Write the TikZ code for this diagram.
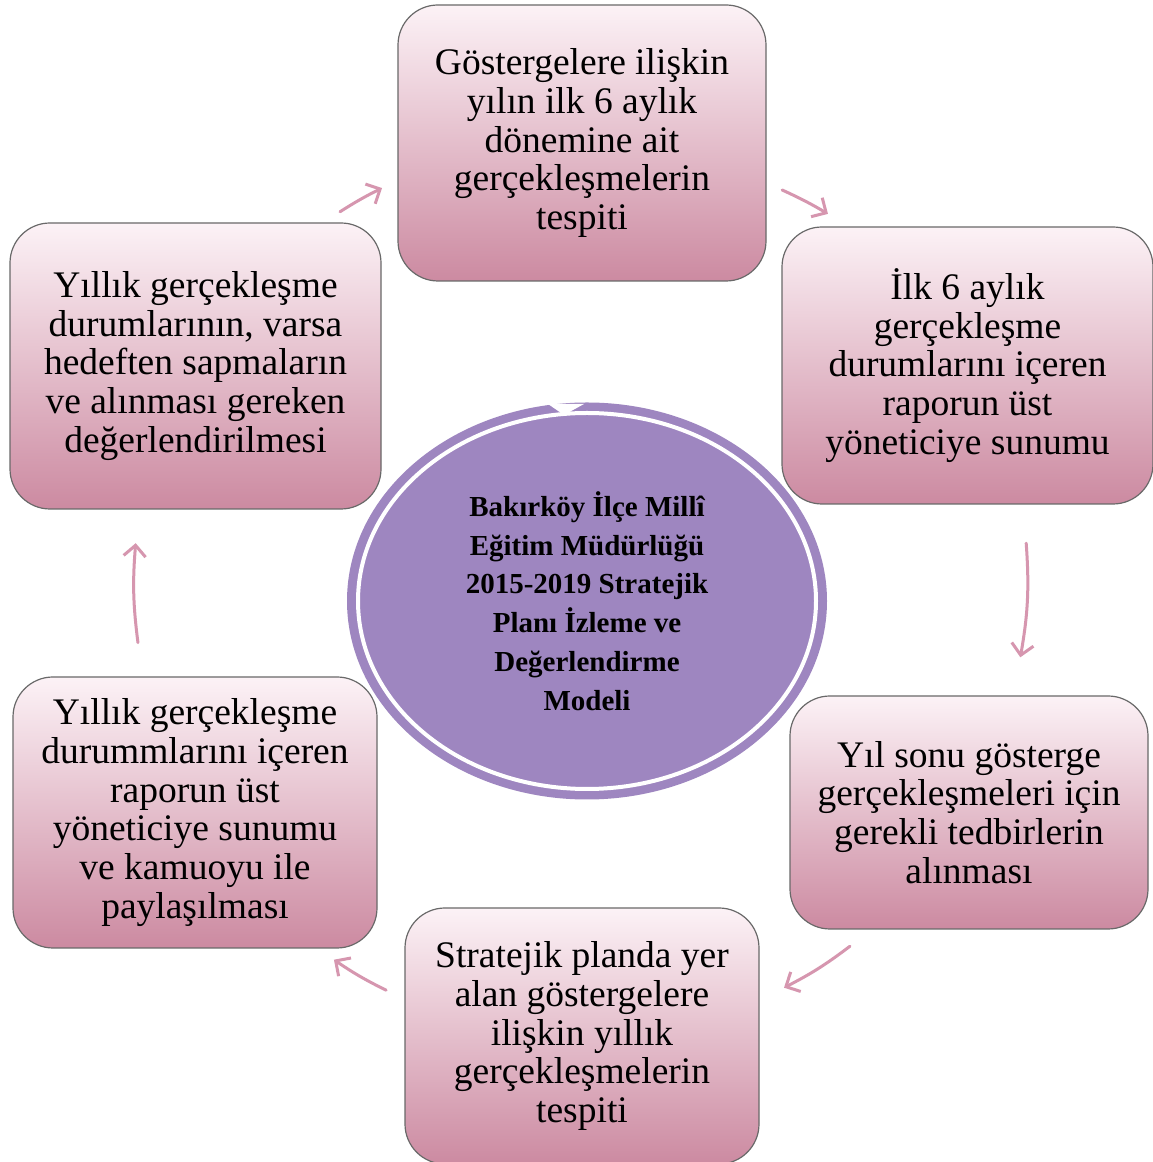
\documentclass[tikz,border=0pt]{standalone}
\usepackage{fontspec}
\setmainfont{Liberation Serif}
\usetikzlibrary{shapes.geometric,arrows.meta,calc}
\definecolor{boxtop}{RGB}{252,242,246}
\definecolor{boxbot}{RGB}{204,138,161}
\definecolor{boxline}{RGB}{105,105,105}
\definecolor{arrowpink}{RGB}{214,150,175}
\definecolor{ringpurple}{RGB}{158,134,192}
\tikzset{
  stagebox/.style={draw=boxline, line width=1.2pt, rounded corners=40pt,
    top color=boxtop, bottom color=boxbot, align=center, inner sep=0pt,
    font=\fontsize{37.5}{38.7}\selectfont},
  cyclearrow/.style={draw=arrowpink, line width=3pt, line cap=round,
    -{Straight Barb[length=11pt,width=22pt,line width=3pt]}},
  hub/.style={ellipse, fill=ringpurple, align=center, inner sep=0pt,
    minimum width=480pt, minimum height=397pt,
    font=\fontsize{29}{38.8}\selectfont\bfseries}
}
\begin{document}
\begin{tikzpicture}[x=1pt,y=1pt]
\useasboundingbox (0,0) rectangle (1152,1162);
\fill[white] (0,0) rectangle (1152,1162);

% central hub
\node[hub] (c) at (587,561) {Bakırköy İlçe Millî\\Eğitim Müdürlüğü\\2015-2019 Stratejik\\Planı İzleme ve\\Değerlendirme\\Modeli};
\draw[white, line width=4pt] (c.center) ellipse [x radius=229, y radius=188];
\fill[white] (548,758) -- (584,758) -- (564,747) -- cycle;

% stage boxes
\node[stagebox, minimum width=368pt, minimum height=276pt] (t) at (582,1019)
  {Göstergelere ilişkin\\yılın ilk 6 aylık\\dönemine ait\\gerçekleşmelerin\\tespiti};
\node[stagebox, minimum width=371pt, minimum height=277pt] (rt) at (967.5,796.5)
  {İlk 6 aylık\\gerçekleşme\\durumlarını içeren\\raporun üst\\yöneticiye sunumu};
\node[stagebox, minimum width=358pt, minimum height=233pt] (rb) at (969,349.5)
  {Yıl sonu gösterge\\gerçekleşmeleri için\\gerekli tedbirlerin\\alınması};
\node[stagebox, minimum width=354pt, minimum height=256pt] (b) at (582,126)
  {Stratejik planda yer\\alan göstergelere\\ilişkin yıllık\\gerçekleşmelerin\\tespiti};
\node[stagebox, minimum width=364pt, minimum height=271pt] (lb) at (195,349.5)
  {Yıllık gerçekleşme\\durummlarını içeren\\raporun üst\\yöneticiye sunumu\\ve kamuoyu ile\\paylaşılması};
\node[stagebox, minimum width=371pt, minimum height=286pt] (lt) at (195.5,796)
  {Yıllık gerçekleşme\\durumlarının, varsa\\hedeften sapmaların\\ve alınması gereken\\değerlendirilmesi};

% arrow end points on a circle around the hub
\coordinate (a1s) at ($(c.center)+(122.4:461)$);
\coordinate (a1e) at ($(c.center)+(116.4:461)$);
\coordinate (a2s) at ($(c.center)+(64.6:455)$);
\coordinate (a2e) at ($(c.center)+(58.1:456)$);
\coordinate (a3s) at ($(c.center)+(7.5:443)$);
\coordinate (a3e) at ($(c.center)+(-7.4:437)$);
\coordinate (a4s) at ($(c.center)+(-52.7:434)$);
\coordinate (a4e) at ($(c.center)+(-63.0:434)$);
\coordinate (a5s) at ($(c.center)+(-117.3:438)$);
\coordinate (a5e) at ($(c.center)+(-125.2:439)$);
\coordinate (a6s) at ($(c.center)+(-174.7:451)$);
\coordinate (a6e) at ($(c.center)+(172.7:455)$);

\draw[cyclearrow] (a1s) to[bend left=3] (a1e);
\draw[cyclearrow] (a2s) to[bend left=3] (a2e);
\draw[cyclearrow] (a3s) to[bend left=7] (a3e);
\draw[cyclearrow] (a4s) to[bend left=5] (a4e);
\draw[cyclearrow] (a5s) to[bend left=4] (a5e);
\draw[cyclearrow] (a6s) to[bend left=6] (a6e);
\end{tikzpicture}
\end{document}
